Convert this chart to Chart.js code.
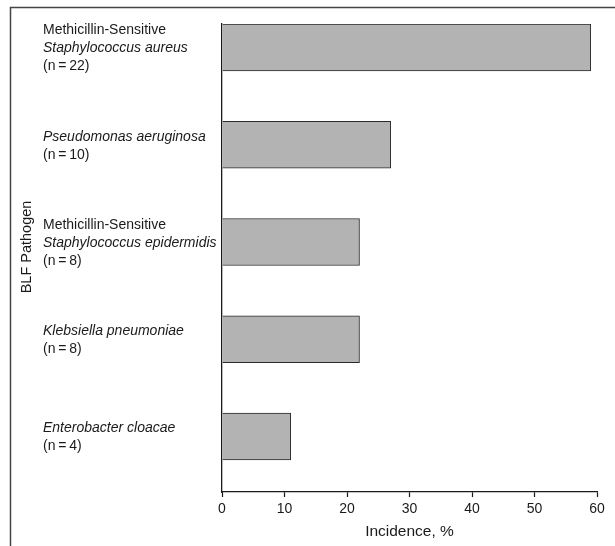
<!DOCTYPE html>
<html><head><meta charset="utf-8">
<script src="https://cdn.jsdelivr.net/npm/chart.js@4"></script>
<style>html,body{margin:0;padding:0;background:#fff}</style>
</head><body>
<canvas id="c" width="615" height="546"></canvas>
<script>
// ---- data ----
const pathogenPrefixes = ["Methicillin-Sensitive", "", "Methicillin-Sensitive", "", ""];
const pathogenNames = ["Staphylococcus aureus", "Pseudomonas aeruginosa", "Staphylococcus epidermidis", "Klebsiella pneumoniae", "Enterobacter cloacae"];
const sampleSizes = [22, 10, 8, 8, 4];
const incidence = [59, 27, 22, 22, 11];
const xTickMin = 0, xTickMax = 60, xTickStep = 10;
const xTitle = "Incidence, %";
const yTitle = "BLF Pathogen";

const FONT = '"Liberation Sans", Arial, sans-serif';
const INK = '#1a1a1a';

const framePlugin = {
  id: 'frame',
  beforeDraw(chart) {
    const ctx = chart.ctx;
    ctx.save();
    ctx.fillStyle = '#fff';
    ctx.fillRect(0, 0, chart.width, chart.height);
    ctx.strokeStyle = '#444';
    ctx.lineWidth = 1.5;
    ctx.beginPath();
    ctx.moveTo(10.5, chart.height);
    ctx.lineTo(10.5, 7.5);
    ctx.lineTo(chart.width, 7.5);
    ctx.stroke();
    ctx.restore();
  }
};

const labelPlugin = {
  id: 'catLabels',
  afterDraw(chart) {
    const ctx = chart.ctx;
    const y = chart.scales.y;
    ctx.save();
    ctx.fillStyle = INK;
    ctx.textAlign = 'left';
    ctx.textBaseline = 'middle';
    pathogenNames.forEach((name, i) => {
      const lines = [];
      if (pathogenPrefixes[i]) lines.push({t: pathogenPrefixes[i], it: false});
      lines.push({t: name, it: true});
      lines.push({t: '(n\u2009=\u2009' + sampleSizes[i] + ')', it: false});
      const c = y.getPixelForValue(i) + 1;
      const lh = 18;
      lines.forEach((ln, j) => {
        ctx.font = (ln.it ? 'italic ' : '') + '14px ' + FONT;
        ctx.fillText(ln.t, 43, c + (j - (lines.length - 1) / 2) * lh);
      });
    });
    // y axis title
    ctx.translate(27, 247);
    ctx.rotate(-Math.PI / 2);
    ctx.textAlign = 'center';
    ctx.font = '14.5px ' + FONT;
    ctx.fillText(yTitle, 0, 0);
    ctx.restore();
  }
};

// index-axis range chosen so that the first bar sits at the top of the axis
const yMin = -0.2416, yMax = 4.571;

new Chart(document.getElementById('c'), {
  type: 'bar',
  data: {
    datasets: [{
      data: incidence.map((v, i) => ({x: v, y: i})),
      backgroundColor: '#b3b3b3',
      borderColor: '#2a2a2a',
      borderWidth: 1,
      barThickness: 47
    }]
  },
  options: {
    indexAxis: 'y',
    responsive: false,
    animation: false,
    devicePixelRatio: 1,
    layout: {padding: {left: 222, right: 18, top: 24, bottom: 0}},
    plugins: {legend: {display: false}, tooltip: {enabled: false}},
    scales: {
      x: {
        type: 'linear', min: xTickMin, max: xTickMax,
        ticks: {stepSize: xTickStep, color: INK, font: {family: FONT, size: 14}, padding: 4, maxRotation: 0},
        grid: {drawOnChartArea: false, drawTicks: true, tickLength: 5, color: INK, tickWidth: 1.2},
        border: {display: true, color: INK, width: 1.3},
        title: {display: true, text: xTitle, color: INK, font: {family: FONT, size: 15.5}, padding: {top: 2, bottom: 5}},
        afterFit(s) { s.height = 54; }
      },
      y: {
        type: 'linear', reverse: true, min: yMin, max: yMax, offset: false,
        ticks: {display: false},
        grid: {display: false, offset: false},
        border: {display: true, color: INK, width: 1.3},
        afterFit(s) { s.width = 0; }
      }
    }
  },
  plugins: [framePlugin, labelPlugin]
});
</script>
</body></html>
